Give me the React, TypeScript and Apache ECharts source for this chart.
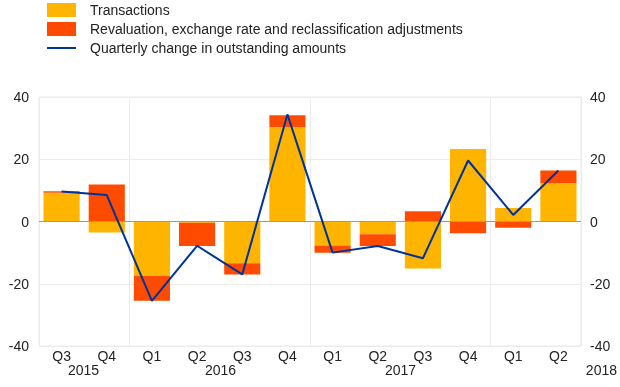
import React, { useEffect, useRef } from "react";
import * as echarts from "echarts";

const quarters = ["Q3", "Q4", "Q1", "Q2", "Q3", "Q4", "Q1", "Q2", "Q3", "Q4", "Q1", "Q2"];
const years = ["2015", "2016", "2017", "2018"];
const transactions = [9.2, -3.5, -17.5, -0.4, -13.4, 30.4, -7.7, -4.1, -15.1, 23.3, 4.3, 12.3];
const revaluation = [0.5, 11.9, -8.0, -7.5, -3.6, 3.7, -2.3, -3.8, 3.3, -3.8, -2.0, 4.1];
const quarterlyChange = [9.6, 8.5, -25.5, -7.8, -17.0, 34.4, -10.0, -7.9, -11.8, 19.6, 2.1, 16.4];
const yTicks = [-40, -20, 0, 20, 40];

const FONT = "Liberation Sans, Arial, sans-serif";
const yearBoundary = (i: number) => i === 0 || i === 2 || i === 6 || i === 10;

export default function App() {
  const ref = useRef<HTMLDivElement>(null);
  useEffect(() => {
    const chart = echarts.init(ref.current!, null, { renderer: "svg" });
    const yAxisCommon = {
      type: "value" as const,
      min: yTicks[0],
      max: yTicks[yTicks.length - 1],
      interval: 20,
      axisLine: { show: false },
      axisTick: { show: false },
      splitLine: { show: true, lineStyle: { color: "#ebebeb", width: 1 } },
      axisLabel: { fontSize: 14, color: "#222", fontFamily: FONT },
    };
    const yearText = (text: string, pos: any) => ({
      type: "text",
      top: 363,
      ...pos,
      style: { text, fontSize: 14, fill: "#222", fontFamily: FONT },
    });
    chart.setOption({
      animation: false,
      textStyle: { fontFamily: FONT },
      legend: {
        orient: "vertical",
        left: 47,
        top: 3,
        padding: 0,
        itemWidth: 29,
        itemHeight: 14,
        itemGap: 5,
        textStyle: { fontSize: 14, color: "#222", fontFamily: FONT, padding: [0, 0, 0, 9] },
        data: [
          { name: "Transactions", icon: "rect" },
          { name: "Revaluation, exchange rate and reclassification adjustments", icon: "rect" },
          {
            name: "Quarterly change in outstanding amounts",
            icon: "path://M0,0 L29,0 L29,2 L0,2 Z",
            itemStyle: { color: "#003299" },
          },
        ],
      },
      grid: {
        left: 39,
        right: 39,
        top: 97,
        bottom: 41,
        show: true,
        borderColor: "#ebebeb",
        borderWidth: 1,
      },
      xAxis: {
        type: "category",
        data: quarters,
        axisLine: { show: false },
        axisTick: {
          show: true,
          interval: (i: number) => yearBoundary(i),
          length: 7,
          lineStyle: { color: "#ebebeb" },
        },
        splitLine: {
          show: true,
          interval: (i: number) => yearBoundary(i),
          lineStyle: { color: "#ebebeb" },
        },
        axisLabel: { fontSize: 14, color: "#222", margin: 3, fontFamily: FONT, interval: 0 },
      },
      yAxis: [
        { ...yAxisCommon, position: "left", axisLabel: { ...yAxisCommon.axisLabel, margin: 10 } },
        { ...yAxisCommon, position: "right", axisLabel: { ...yAxisCommon.axisLabel, margin: 9 } },
      ],
      graphic: [
        yearText(years[0], { left: 68 }),
        yearText(years[1], { left: 205 }),
        yearText(years[2], { left: 385 }),
        yearText(years[3], { right: 3 }),
      ],
      series: [
        {
          name: "Transactions",
          type: "bar",
          stack: "total",
          data: transactions,
          barCategoryGap: "20%",
          itemStyle: { color: "#FFB400" },
          markLine: {
            silent: true,
            symbol: "none",
            label: { show: false },
            lineStyle: { color: "#9a9a9a", type: "solid", width: 1 },
            data: [{ yAxis: 0 }],
          },
        },
        {
          name: "Revaluation, exchange rate and reclassification adjustments",
          type: "bar",
          stack: "total",
          data: revaluation,
          itemStyle: { color: "#FF4B00" },
        },
        {
          name: "Quarterly change in outstanding amounts",
          type: "line",
          data: quarterlyChange,
          symbol: "none",
          showSymbol: false,
          z: 5,
          lineStyle: { color: "#003299", width: 2 },
          itemStyle: { color: "#003299" },
        },
      ],
    });
    return () => chart.dispose();
  }, []);
  return <div ref={ref} style={{ position: "fixed", left: 0, top: 0, width: 620, height: 387 }} />;
}
